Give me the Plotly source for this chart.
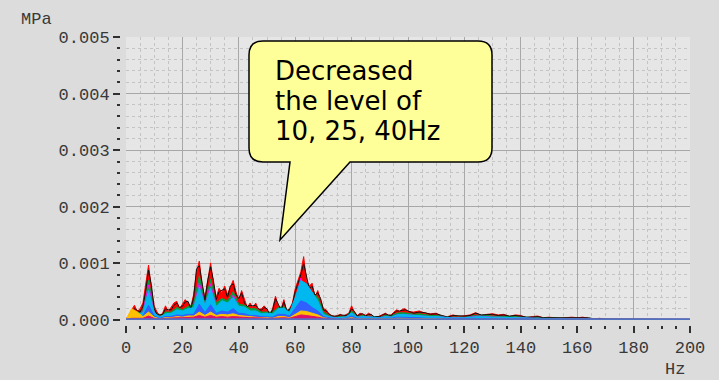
import plotly.graph_objects as go

# ---------------- data (units of 1e-5 MPa) ----------------
UNIT = 1e-5

freq_fine = list(range(0, 101)) + list(range(102, 171, 2)) + [180, 190, 200]
freq_coarse = list(range(0, 111, 2)) + list(range(115, 171, 5)) + [185, 200]

s1_red = [2, 8, 18, 26, 15, 20, 30, 60, 97, 55,
          25, 14, 8, 12, 25, 15, 22, 30, 33, 20,
          28, 36, 30, 24, 45, 85, 104, 60, 40, 75,
          101, 65, 40, 56, 48, 60, 45, 58, 70, 50,
          35, 52, 35, 22, 30, 22, 30, 18, 20, 25,
          18, 10, 20, 42, 25, 20, 36, 15, 20, 30,
          55, 70, 85, 112, 70, 60, 65, 40, 52, 35,
          20, 18, 10, 8, 6, 8, 10, 7, 9, 12,
          25, 14, 8, 12, 10, 8, 12, 9, 6, 5,
          7, 10, 12, 8, 9, 14, 18, 15, 19, 20,
          15,
          14, 16, 12, 11, 12, 7, 6, 9, 6, 8, 9, 13, 8, 10, 11, 9, 10, 6,
          9, 8, 4, 6, 7, 4, 5, 4, 3, 4, 5, 4, 5, 3, 2, 3, 1,
          1, 1, 1]

s2_black = [1, 6, 14, 20, 17, 14, 24, 52, 88, 62,
            20, 10, 9, 10, 20, 18, 18, 26, 30, 22,
            24, 32, 33, 20, 40, 90, 96, 66, 35, 70,
            94, 70, 36, 50, 52, 55, 40, 60, 64, 45,
            38, 48, 30, 24, 26, 25, 26, 20, 17, 22,
            20, 9, 18, 38, 28, 17, 32, 17, 18, 27,
            50, 64, 80, 100, 74, 55, 60, 44, 48, 38,
            18, 16, 11, 7, 7, 7, 9, 8, 8, 10,
            20, 15, 7, 10, 11, 7, 10, 10, 5, 6,
            6, 9, 11, 9, 8, 12, 16, 16, 17, 18,
            16,
            12, 14, 13, 10, 11, 8, 5, 8, 7, 7, 8, 12, 9, 9, 10, 8, 9, 7,
            8, 7, 5, 5, 6, 4, 4, 4, 3, 3, 4, 4, 4, 4, 2, 2, 1,
            1, 1, 1]

s3_green = [1, 10, 12, 18, 70, 16, 6, 14, 14, 22,
            18, 24, 28, 78, 30, 72, 30, 38, 34, 50,
            28, 26, 20, 20, 14, 14, 14, 22, 24, 14,
            38, 58, 56, 50, 40, 14, 8, 5, 6, 7,
            16, 6, 8, 7, 5, 5, 8, 7, 12, 13,
            12, 10, 11, 9, 8, 8,
            5, 5, 9, 7, 6, 5, 4, 3, 3, 3, 2, 1, 1, 1]

s4_magenta = [1, 8, 9, 14, 62, 12, 5, 10, 11, 16,
              14, 18, 20, 66, 24, 64, 22, 30, 26, 44,
              22, 20, 15, 15, 10, 11, 10, 17, 18, 11,
              28, 74, 42, 36, 30, 10, 6, 4, 4, 5,
              12, 5, 6, 5, 4, 4, 6, 5, 9, 10,
              9, 8, 8, 7, 6, 6,
              4, 4, 7, 5, 5, 4, 3, 2, 2, 2, 1, 1, 1, 1]

s5_cyan = [1, 8, 9, 13, 52, 13, 5, 11, 12, 18,
           16, 20, 22, 58, 26, 56, 24, 34, 30, 40,
           24, 23, 16, 16, 11, 12, 11, 20, 21, 13,
           40, 70, 64, 48, 34, 10, 6, 4, 4, 5,
           13, 5, 6, 5, 4, 4, 6, 5, 9, 10,
           9, 8, 8, 7, 6, 6,
           4, 4, 6, 5, 5, 4, 3, 2, 2, 2, 1, 1, 1, 1]

s6_blue = [1, 4, 5, 7, 26, 7, 3, 6, 6, 9,
           8, 10, 10, 28, 13, 27, 12, 16, 14, 20,
           12, 11, 8, 8, 6, 6, 5, 10, 10, 7,
           20, 34, 30, 22, 16, 6, 4, 2, 2, 3,
           7, 3, 3, 3, 2, 2, 3, 3, 5, 5,
           5, 4, 4, 3, 3, 3,
           2, 2, 3, 3, 2, 2, 1, 1, 1, 1, 1, 1, 1, 1]

s7_yellow = [1, 20, 14, 6, 14, 5, 2, 4, 4, 6,
             5, 7, 7, 14, 8, 14, 8, 10, 9, 11,
             8, 7, 5, 5, 4, 4, 3, 6, 6, 4,
             10, 16, 15, 12, 9, 4, 2, 1, 1, 2,
             4, 2, 2, 2, 1, 1, 2, 2, 3, 3,
             3, 2, 2, 2, 2, 2,
             1, 1, 2, 2, 1, 1, 1, 1, 1, 1, 1, 1, 1, 1]

s8_crimson = [1, 3, 3, 3, 7, 3, 2, 3, 3, 4,
              4, 5, 5, 8, 5, 8, 5, 6, 5, 6,
              5, 5, 4, 4, 3, 3, 3, 4, 4, 3,
              6, 9, 8, 7, 5, 3, 2, 1, 1, 1,
              2, 1, 1, 1, 1, 1, 1, 1, 2, 2,
              2, 1, 1, 1, 1, 1,
              1, 1, 1, 1, 1, 1, 1, 1, 1, 1, 1, 1, 1, 1]

freq_base = [0, 200]
base_level = [1, 1]

x_ticks = [0, 20, 40, 60, 80, 100, 120, 140, 160, 180, 200]
y_ticks = [0.000, 0.001, 0.002, 0.003, 0.004, 0.005]
callout_lines = ["Decreased", "the level of", "10, 25, 40Hz"]

# (x, values, colour, filled)
series = [
    (freq_fine, s1_red, "#ff0000", True),
    (freq_coarse, s3_green, "#00a040", True),
    (freq_fine, s2_black, "#101010", False),
    (freq_coarse, s4_magenta, "#ff00ff", False),
    (freq_coarse, s5_cyan, "#00b8f0", True),
    (freq_coarse, s6_blue, "#3060ff", True),
    (freq_coarse, s7_yellow, "#ffc000", True),
    (freq_coarse, s8_crimson, "#e0106a", True),
]

fig = go.Figure()
for fx, vals, col, filled in series:
    fig.add_trace(go.Scatter(
        x=fx, y=[v * UNIT for v in vals], mode="lines",
        line=dict(color=col, width=1),
        fill="tozeroy" if filled else "none", fillcolor=col,
        hoverinfo="skip", showlegend=False))
fig.add_trace(go.Scatter(
    x=freq_base, y=[v * UNIT for v in base_level], mode="lines",
    line=dict(color="#5470c0", width=2.5), showlegend=False, hoverinfo="skip"))

# ---------------- layout ----------------
ML, MR, MT, MB = 120, 29, 37, 55
W, H = 719, 380
PW, PH = W - ML - MR, H - MT - MB


def px(x):
    return (x - ML) / PW


def py(y):
    return (H - MB - y) / PH


tickfont = dict(family="Liberation Mono", size=17, color="#383838")

fig.update_layout(
    width=W, height=H,
    margin=dict(l=ML, r=MR, t=MT, b=MB, pad=0),
    paper_bgcolor="#dcdcdc", plot_bgcolor="#e6e6e6",
    xaxis=dict(
        domain=[6 / PW, 1], anchor="free", position=0,
        range=[0, 200], tickvals=x_ticks, ticktext=[str(v) for v in x_ticks],
        ticks="outside", ticklen=7, tickwidth=2, tickcolor="#303030",
        showgrid=True, gridcolor="#a8a8a8", gridwidth=1,
        zeroline=False, showline=False, tickfont=tickfont,
        minor=dict(dtick=5, tick0=0, ticks="outside", ticklen=3, tickwidth=2,
                   tickcolor="#303030", showgrid=True, gridcolor="#c4c4c4",
                   griddash="dot", gridwidth=1),
    ),
    yaxis=dict(
        domain=[5 / PH, 1], anchor="free", position=0,
        range=[0, 0.005], tickvals=y_ticks, ticktext=["%.3f" % v for v in y_ticks],
        ticks="outside", ticklen=7, tickwidth=2, tickcolor="#303030",
        showgrid=True, gridcolor="#a8a8a8", gridwidth=1,
        zeroline=False, showline=False, tickfont=tickfont,
        minor=dict(dtick=0.0002, tick0=0, ticks="outside", ticklen=3, tickwidth=2,
                   tickcolor="#303030", showgrid=True, gridcolor="#c4c4c4",
                   griddash="dot", gridwidth=1),
    ),
)

# axis unit labels
fig.add_annotation(text="MPa", xref="paper", yref="paper", x=px(19), y=py(8),
                   xanchor="left", yanchor="top", showarrow=False, font=tickfont)
fig.add_annotation(text="Hz", xref="paper", yref="paper", x=px(663), y=py(358),
                   xanchor="left", yanchor="top", showarrow=False, font=tickfont)

# callout balloon
L, R, T, B, r = 249, 492, 41, 162, 14
tail = [(350, 162), (280, 240), (290, 162)]


def P(x, y):
    return "%.5f,%.5f" % (px(x), py(y))


path = "M " + P(L + r, T) + " L " + P(R - r, T) + " Q " + P(R, T) + " " + P(R, T + r)
path += " L " + P(R, B - r) + " Q " + P(R, B) + " " + P(R - r, B)
for tx, ty in tail:
    path += " L " + P(tx, ty)
path += " L " + P(L + r, B) + " Q " + P(L, B) + " " + P(L, B - r)
path += " L " + P(L, T + r) + " Q " + P(L, T) + " " + P(L + r, T) + " Z"
fig.add_shape(type="path", path=path, xref="paper", yref="paper",
              fillcolor="#ffff99", line=dict(color="#000000", width=1.5), layer="above")

for i, txt in enumerate(callout_lines):
    fig.add_annotation(text=txt, xref="paper", yref="paper", x=px(273), y=py(71 + 30 * i),
                       xanchor="left", yanchor="middle", showarrow=False,
                       font=dict(family="DejaVu Sans", size=26, color="#000000"))

fig.write_html("out.html")
